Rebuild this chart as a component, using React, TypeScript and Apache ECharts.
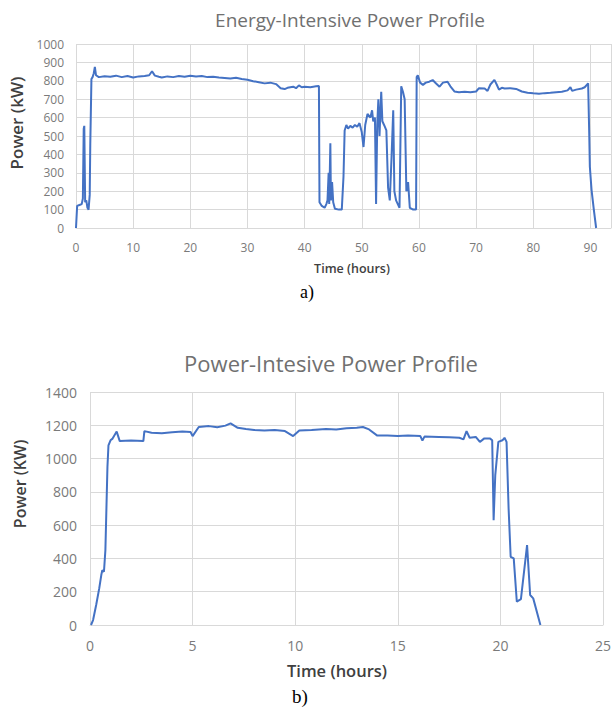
import React, { useEffect, useRef } from "react";
import * as echarts from "echarts";

const energyTitle = "Energy-Intensive Power Profile";
const powerTitle = "Power-Intesive Power Profile";

// Energy-intensive profile: [time (hours), power (kW)]
const energyProfile: number[][] = [
  [0, 0], [0.1, 0], [0.2, 120], [0.6, 125], [1.0, 130], [1.2, 160], [1.35, 540], [1.45, 555],
  [1.6, 140], [1.8, 150], [2.0, 110], [2.2, 100], [2.4, 180], [2.5, 460], [2.7, 810], [2.9, 820],
  [3.1, 840], [3.3, 875], [3.5, 830], [4, 820], [5, 825], [6, 822], [7, 828], [8, 820], [9, 826],
  [10, 818], [11, 824], [12, 826], [12.8, 830], [13.3, 852], [13.8, 828], [14.5, 822], [15, 818],
  [16, 824], [17, 820], [18, 826], [19, 822], [20, 828], [21, 824], [22, 826], [23, 820], [24, 822],
  [25, 818], [26, 815], [27, 812], [28, 816], [29, 810], [30, 806], [31, 798], [32, 792], [33, 786],
  [34, 790], [35, 782], [35.8, 760], [36.5, 755], [37, 762], [38, 768], [38.5, 760], [39, 775],
  [39.5, 765], [40, 768], [41, 765], [42, 770], [42.5, 772], [42.6, 140], [43, 120], [43.5, 110],
  [43.8, 130], [44, 150], [44.2, 300], [44.3, 130], [44.5, 460], [44.6, 150], [44.8, 250], [45, 140],
  [45.3, 105], [46, 100], [46.5, 100], [46.8, 280], [47, 530], [47.3, 560], [47.6, 540], [48, 555],
  [48.4, 545], [48.8, 560], [49.2, 550], [49.6, 570], [50, 520], [50.3, 440], [50.6, 560], [51, 620],
  [51.5, 600], [51.8, 640], [52, 580], [52.3, 600], [52.5, 130], [52.7, 560], [52.9, 700], [53.1, 500],
  [53.4, 740], [53.6, 580], [53.9, 560], [54.3, 530], [54.6, 220], [54.9, 150], [55.2, 380],
  [55.5, 640], [55.7, 200], [56, 150], [56.3, 130], [56.6, 110], [56.9, 770], [57.2, 740],
  [57.5, 700], [57.8, 200], [58.1, 250], [58.4, 110], [59, 100], [59.5, 100], [59.6, 820],
  [59.8, 830], [60.2, 790], [60.7, 778], [61.2, 790], [61.8, 795], [62.4, 804], [63, 785],
  [63.6, 768], [64.2, 790], [65, 795], [65.5, 770], [66.2, 742], [67, 738], [68, 740], [69, 738],
  [70, 742], [70.5, 760], [71.5, 758], [72, 745], [72.5, 780], [73.2, 805], [73.6, 780], [74, 752],
  [74.5, 762], [75, 758], [76, 760], [77, 756], [78, 742], [79, 735], [80, 732], [81, 730],
  [82, 733], [83, 735], [84, 738], [85, 740], [86, 748], [86.5, 765], [86.8, 745], [87.5, 752],
  [88.5, 758], [89, 765], [89.6, 786], [89.8, 500], [89.9, 333], [90.2, 206], [90.6, 98], [91, 0],
];

// Power-intensive profile: [time (hours), power (kW)]
const powerProfile: number[][] = [
  [0.05, 0], [0.15, 30], [0.3, 120], [0.45, 220], [0.55, 300], [0.6, 330], [0.68, 320], [0.75, 450],
  [0.8, 700], [0.85, 950], [0.9, 1080], [1.0, 1110], [1.1, 1120], [1.3, 1162], [1.45, 1105],
  [2.0, 1108], [2.6, 1105], [2.65, 1165], [3, 1155], [3.5, 1152], [4, 1158], [4.5, 1162],
  [4.9, 1160], [5.0, 1135], [5.3, 1190], [5.8, 1195], [6.2, 1188], [6.6, 1198], [6.85, 1212],
  [7.2, 1185], [7.6, 1178], [8, 1172], [8.5, 1168], [9, 1172], [9.5, 1165], [9.9, 1135],
  [10.2, 1168], [10.8, 1172], [11.5, 1178], [12.0, 1175], [12.5, 1182], [13, 1185], [13.3, 1190],
  [13.6, 1175], [14, 1138], [14.5, 1138], [15, 1136], [15.5, 1138], [16.1, 1135], [16.2, 1108],
  [16.3, 1132], [17, 1130], [17.5, 1128], [18, 1125], [18.2, 1115], [18.35, 1165], [18.5, 1125],
  [18.8, 1130], [19.0, 1100], [19.2, 1120], [19.5, 1120], [19.6, 1110], [19.67, 630], [19.75, 900],
  [19.9, 1100], [20.1, 1110], [20.2, 1125], [20.3, 1100], [20.4, 700], [20.5, 410], [20.65, 400],
  [20.8, 140], [21.0, 155], [21.3, 480], [21.45, 180], [21.6, 160], [21.95, 0],
];

const energyYTicks = { min: 0, max: 1000, interval: 100 };
const energyXTicks = { min: 0, max: 93.6, interval: 10 };
const powerYTicks = { min: 0, max: 1400, interval: 200 };
const powerXTicks = { min: 0, max: 25, interval: 5 };

const FONT = "'Open Sans', 'Noto Sans', sans-serif";
const GRID = "#d9d9d9";
const TICK = "#7a7a7a";
const LINE = "#4472C4";

export default function App() {
  const ref = useRef<HTMLDivElement>(null);
  useEffect(() => {
    if (!ref.current) return;
    const chart = echarts.init(ref.current, undefined, { renderer: "svg" });
    const axisBase = {
      type: "value" as const,
      axisTick: { show: false },
      splitLine: { show: true, lineStyle: { color: GRID, width: 1 } },
    };
    const plain = (v: number) => String(v);
    chart.setOption({
      animation: false,
      backgroundColor: "#ffffff",
      grid: [
        { left: 76, top: 44, width: 538, height: 184 },
        { left: 90, top: 392, width: 513, height: 233 },
      ],
      xAxis: [
        {
          ...axisBase,
          gridIndex: 0,
          ...energyXTicks,
          axisLine: { show: true, lineStyle: { color: GRID } },
          axisLabel: {
            color: TICK, fontSize: 12, fontFamily: FONT, margin: 13,
            formatter: (v: number) => (v % 10 === 0 ? String(v) : ""),
          },
        },
        {
          ...axisBase,
          gridIndex: 1,
          ...powerXTicks,
          axisLine: { show: true, lineStyle: { color: GRID } },
          axisLabel: { color: TICK, fontSize: 14, fontFamily: FONT, margin: 13, formatter: plain },
        },
      ],
      yAxis: [
        {
          ...axisBase,
          gridIndex: 0,
          ...energyYTicks,
          axisLine: { show: false },
          axisLabel: { color: TICK, fontSize: 12, fontFamily: FONT, margin: 12, formatter: plain },
        },
        {
          ...axisBase,
          gridIndex: 1,
          ...powerYTicks,
          axisLine: { show: false },
          axisLabel: { color: TICK, fontSize: 14, fontFamily: FONT, margin: 13, formatter: plain },
        },
      ],
      series: [
        {
          type: "line", xAxisIndex: 0, yAxisIndex: 0, data: energyProfile,
          showSymbol: false, lineStyle: { color: LINE, width: 2 }, clip: true,
        },
        {
          type: "line", xAxisIndex: 1, yAxisIndex: 1, data: powerProfile,
          showSymbol: false, lineStyle: { color: LINE, width: 2 }, clip: true,
        },
      ],
      graphic: [
        { type: "text", x: 350, y: 20, style: { text: energyTitle, fill: "#707070", font: `19px ${FONT}`, textAlign: "center", textVerticalAlign: "middle" } },
        { type: "text", x: 352, y: 268, style: { text: "Time (hours)", fill: "#404040", font: `600 12.5px ${FONT}`, textAlign: "center", textVerticalAlign: "middle" } },
        { type: "text", x: 16, y: 123, rotation: Math.PI / 2, style: { text: "Power (kW)", fill: "#404040", font: `600 17px ${FONT}`, textAlign: "center", textVerticalAlign: "middle" } },
        { type: "text", x: 307, y: 292, style: { text: "a)", fill: "#000000", font: `18px 'Liberation Serif', serif`, textAlign: "center", textVerticalAlign: "middle" } },
        { type: "text", x: 331, y: 363, style: { text: powerTitle, fill: "#707070", font: `22px ${FONT}`, textAlign: "center", textVerticalAlign: "middle" } },
        { type: "text", x: 337, y: 670, style: { text: "Time (hours)", fill: "#404040", font: `600 16.5px ${FONT}`, textAlign: "center", textVerticalAlign: "middle" } },
        { type: "text", x: 20, y: 484, rotation: Math.PI / 2, style: { text: "Power (KW)", fill: "#404040", font: `600 16px ${FONT}`, textAlign: "center", textVerticalAlign: "middle" } },
        { type: "text", x: 300, y: 696, style: { text: "b)", fill: "#000000", font: `19px 'Liberation Serif', serif`, textAlign: "center", textVerticalAlign: "middle" } },
      ],
    });
    return () => chart.dispose();
  }, []);
  return (
    <div
      ref={ref}
      style={{ position: "fixed", left: 0, top: 0, width: 614, height: 713, background: "#fff" }}
    />
  );
}
